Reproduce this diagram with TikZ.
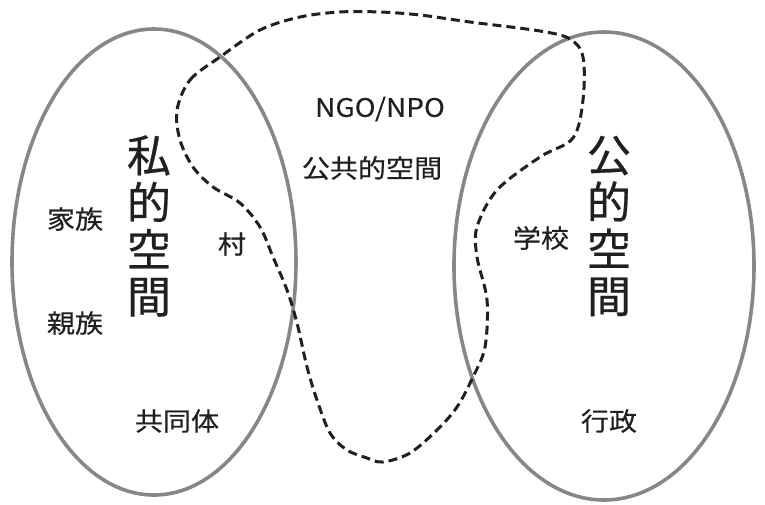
\documentclass[tikz,border=0pt]{standalone}
\usepackage{fontspec}
\setmainfont{Noto Sans CJK JP}[FakeBold=0.6]
\newfontfamily\widecjk[FakeStretch=1.1,FakeBold=0.5]{Noto Sans CJK JP}
\definecolor{ringgray}{RGB}{135,135,135}
\definecolor{inkblack}{RGB}{35,31,32}
\begin{document}
\begin{tikzpicture}[x=1pt,y=-1pt,
	ring/.style={draw=ringgray,line width=3.6pt},
	border/.style={draw=inkblack,line width=3pt,dash pattern=on 9pt off 5pt},
	word/.style={text=inkblack,inner sep=0pt,font=\widecjk\fontsize{25.5}{28}\selectfont},
	bigword/.style={text=inkblack,inner sep=0pt,align=center,font=\fontsize{44}{47}\selectfont}]
	\useasboundingbox (0,0) rectangle (765,504);
	%Vong tron trai, phai
	\draw[ring] (154,262) ellipse [x radius=142,y radius=233];
	\draw[ring] (604,266) ellipse [x radius=150,y radius=234];
	%Duong bien cong cong
	\draw[border] plot[smooth cycle,tension=0.55] coordinates {
		(177,110) (190,80) (220,57) (260,30) (300,17) (340,12) (380,12)
		(420,15) (470,22) (540,31) (570,39) (583,57) (583,100) (573,138)
		(540,157) (497,190) (477,227) (477,257) (487,300) (485,347)
		(473,377) (457,407) (437,430) (410,453) (383,462) (367,458)
		(347,450) (330,433) (317,400) (307,367) (297,323) (287,290)
		(273,257) (260,227) (240,203) (213,187) (193,167) (180,140)};
	%Chu lon
	\node[bigword] (shiteki) at (149,226) {私\\的\\空\\間};
	\node[bigword] (koteki) at (609,226) {公\\的\\空\\間};
	%Ben trai
	\node[word] (kazoku) at (75,219) {家族};
	\node[word] (shinzoku) at (75,323) {親族};
	\node[word] (kyodotai) at (177,421) {共同体};
	\node[word] (mura) at (232,244) {村};
	%O giua
	\node[word] (ngo) at (380,109) {NGO/NPO};
	\node[word] (kokyo) at (372,168) {公共的空間};
	%Ben phai
	\node[word] (gakko) at (541,238) {学校};
	\node[word] (gyosei) at (609,421) {行政};
\end{tikzpicture}
\end{document}
